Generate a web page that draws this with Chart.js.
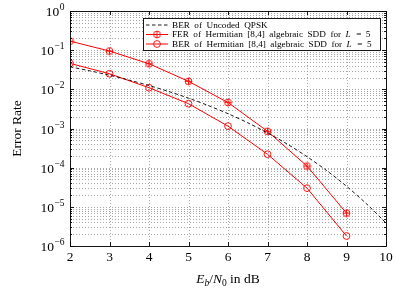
<!DOCTYPE html>
<html>
<head>
<meta charset="utf-8">
<script src="https://cdn.jsdelivr.net/npm/chart.js@4/dist/chart.umd.min.js"></script>
<style>html,body{margin:0;padding:0;background:#fff}canvas{display:block}</style>
</head>
<body>
<canvas id="c" width="398" height="292"></canvas>
<script>
// ---- data ----
const snr = [2, 3, 4, 5, 6, 7, 8, 9];
const ferSdd = [0.17, 0.095, 0.045, 0.016, 0.0046, 8.5e-4, 1.1e-4, 6.9e-6];
const berSdd = [0.046, 0.025, 0.011, 0.0043, 0.00115, 2.2e-4, 3.0e-5, 1.8e-6];
const snrQpsk = [2, 2.5, 3, 3.5, 4, 4.5, 5, 5.5, 6, 6.5, 7, 7.5, 8, 8.5, 9, 9.5, 10];
const berQpsk = [0.0375, 0.0297, 0.0229, 0.0172, 0.0125, 0.0088, 0.00595, 0.00386, 0.00239,
  0.0014, 7.7e-4, 4.0e-4, 1.91e-4, 8.4e-5, 3.36e-5, 1.21e-5, 3.87e-6];
const xTicks = [2, 3, 4, 5, 6, 7, 8, 9, 10];
const yExps = [0, -1, -2, -3, -4, -5, -6];

const SERIF = '"Liberation Serif", "DejaVu Serif", serif';
const RED = '#ff0000';

// circle-plus marker for the FER curve
function ferMark() {
  const c = document.createElement('canvas');
  c.width = 9; c.height = 9;
  const g = c.getContext('2d');
  g.strokeStyle = RED; g.lineWidth = 0.9;
  g.beginPath(); g.arc(4.5, 4.5, 3.4, 0, 2 * Math.PI); g.stroke();
  g.beginPath();
  g.moveTo(4.5, 1.1); g.lineTo(4.5, 7.9);
  g.moveTo(1.1, 4.5); g.lineTo(7.9, 4.5);
  g.stroke();
  return c;
}
const ferPt = ferMark();

const pairs = (xs, ys) => xs.map((x, i) => ({ x, y: ys[i] }));

// dotted grid under the data
const gridPlugin = {
  id: 'grid',
  beforeDatasetsDraw(chart) {
    const { ctx, chartArea: a, scales: { x, y } } = chart;
    ctx.save();
    ctx.strokeStyle = '#8f8f8f';
    ctx.lineWidth = 0.8;
    ctx.setLineDash([1, 2]);
    ctx.beginPath();
    xTicks.forEach(v => {
      const px = Math.round(x.getPixelForValue(v)) + 0.5;
      ctx.moveTo(px, a.top); ctx.lineTo(px, a.bottom);
    });
    yExps.forEach(e => {
      for (let m = 1; m < 10; m++) {
        if (e === 0 && m > 1) break;
        const py = Math.round(y.getPixelForValue(m * Math.pow(10, e))) + 0.5;
        ctx.moveTo(a.left, py); ctx.lineTo(a.right, py);
      }
    });
    ctx.stroke();
    ctx.restore();
  },
};

function drawPow(ctx, xr, yc, e) {
  // "10" with superscript exponent, right edge at xr
  const sup = e === 0 ? '0' : '\u2212' + (-e);
  ctx.font = '13.5px ' + SERIF;
  const wb = ctx.measureText('10').width;
  ctx.font = '9.5px ' + SERIF;
  const we = ctx.measureText(sup).width;
  const x0 = xr - we - wb - 0.5;
  ctx.textBaseline = 'middle';
  ctx.textAlign = 'left';
  ctx.font = '13.5px ' + SERIF;
  ctx.fillText('10', x0, yc + 1.5);
  ctx.font = '9.5px ' + SERIF;
  ctx.fillText(sup, x0 + wb + 0.5, yc - 3.5);
}

const framePlugin = {
  id: 'frame',
  afterDatasetsDraw(chart) {
    const { ctx, chartArea: a, scales: { x, y } } = chart;
    ctx.save();
    ctx.fillStyle = '#000';
    ctx.strokeStyle = '#000';
    ctx.lineWidth = 0.9;
    // ticks
    ctx.beginPath();
    xTicks.forEach(v => {
      const px = Math.round(x.getPixelForValue(v)) + 0.5;
      ctx.moveTo(px, a.bottom); ctx.lineTo(px, a.bottom - 4);
      ctx.moveTo(px, a.top); ctx.lineTo(px, a.top + 4);
    });
    yExps.forEach(e => {
      for (let m = 1; m < 10; m++) {
        if (e === 0 && m > 1) break;
        const py = Math.round(y.getPixelForValue(m * Math.pow(10, e))) + 0.5;
        const len = m === 1 ? 4 : 2;
        ctx.moveTo(a.left, py); ctx.lineTo(a.left + len, py);
        ctx.moveTo(a.right, py); ctx.lineTo(a.right - len, py);
      }
    });
    ctx.stroke();
    ctx.strokeRect(Math.round(a.left) + 0.5, Math.round(a.top) + 0.5,
      Math.round(a.right - a.left), Math.round(a.bottom - a.top));

    // tick labels
    ctx.font = '13.5px ' + SERIF;
    ctx.textAlign = 'center';
    ctx.textBaseline = 'middle';
    xTicks.forEach(v => ctx.fillText(String(v), x.getPixelForValue(v), a.bottom + 11.5));
    yExps.forEach(e => drawPow(ctx, a.left - 5.5, y.getPixelForValue(Math.pow(10, e)), e));

    // axis titles
    ctx.save();
    ctx.translate(17, (a.top + a.bottom) / 2);
    ctx.rotate(-Math.PI / 2);
    ctx.font = '13.5px ' + SERIF;
    ctx.textAlign = 'center';
    ctx.textBaseline = 'middle';
    ctx.fillText('Error Rate', 0, 0);
    ctx.restore();

    const parts = [
      ['E', 'italic 13.5px ', 0], ['b', 'italic 9.5px ', 3], ['/', '13.5px ', 0],
      ['N', 'italic 13.5px ', 0], ['0', '9.5px ', 3], [' in dB', '13.5px ', 0],
    ];
    let tw = 0;
    parts.forEach(p => { ctx.font = p[1] + SERIF; tw += ctx.measureText(p[0]).width; });
    let cx = (a.left + a.right) / 2 - tw / 2;
    ctx.textAlign = 'left';
    ctx.textBaseline = 'alphabetic';
    parts.forEach(p => {
      ctx.font = p[1] + SERIF;
      ctx.fillText(p[0], cx, 283 + p[2]);
      cx += ctx.measureText(p[0]).width;
    });

    // legend
    const lx = 143, ly = 18, lw = 237, lh = 32;
    ctx.fillStyle = '#fff';
    ctx.fillRect(lx, ly, lw, lh);
    ctx.strokeStyle = '#000';
    ctx.lineWidth = 0.9;
    ctx.strokeRect(lx + 0.5, ly + 0.5, lw, lh);
    const rows = [
      { y: 25, text: 'BER of Uncoded QPSK', L: false },
      { y: 34.5, text: 'FER of Hermitian [8,4] algebraic SDD for ', L: true },
      { y: 44, text: 'BER of Hermitian [8,4] algebraic SDD for ', L: true },
    ];
    rows.forEach((r, i) => {
      ctx.save();
      if (i === 0) { ctx.strokeStyle = '#000'; ctx.setLineDash([3.5, 2.5]); ctx.lineWidth = 0.9; }
      else { ctx.strokeStyle = RED; ctx.lineWidth = 1; }
      ctx.beginPath(); ctx.moveTo(146, r.y); ctx.lineTo(168, r.y); ctx.stroke();
      ctx.restore();
      if (i === 1) ctx.drawImage(ferPt, 157 - 4.5, r.y - 4.5);
      if (i === 2) {
        ctx.save(); ctx.strokeStyle = RED; ctx.lineWidth = 0.9;
        ctx.beginPath(); ctx.arc(157, r.y, 3.4, 0, 2 * Math.PI); ctx.stroke(); ctx.restore();
      }
      ctx.fillStyle = '#000';
      ctx.textBaseline = 'middle';
      ctx.textAlign = 'left';
      ctx.font = '9.2px ' + SERIF;
      ctx.wordSpacing = '2.2px';
      let tx = 172;
      ctx.fillText(r.text, tx, r.y + 0.5);
      if (r.L) {
        tx += ctx.measureText(r.text).width;
        ctx.font = 'italic 9.2px ' + SERIF;
        ctx.fillText('L', tx, r.y + 0.5);
        tx += ctx.measureText('L').width;
        ctx.font = '9.2px ' + SERIF;
        ctx.fillText(' = 5', tx + 1, r.y + 0.5);
      }
      ctx.wordSpacing = '0px';
    });
    ctx.restore();
  },
};

new Chart(document.getElementById('c').getContext('2d'), {
  type: 'line',
  data: {
    datasets: [
      {
        label: 'BER of Uncoded QPSK',
        data: pairs(snrQpsk, berQpsk),
        borderColor: '#000', borderWidth: 0.9, borderDash: [3.5, 2.5],
        pointRadius: 0, fill: false, tension: 0.3,
      },
      {
        label: 'FER of Hermitian [8,4] algebraic SDD for L = 5',
        data: pairs(snr, ferSdd),
        borderColor: RED, borderWidth: 1,
        pointStyle: ferPt, pointRadius: 4, fill: false, tension: 0,
      },
      {
        label: 'BER of Hermitian [8,4] algebraic SDD for L = 5',
        data: pairs(snr, berSdd),
        borderColor: RED, borderWidth: 1,
        pointStyle: 'circle', pointRadius: 3.4, pointBorderWidth: 0.9,
        pointBorderColor: RED, pointBackgroundColor: 'rgba(0,0,0,0)',
        fill: false, tension: 0,
      },
    ],
  },
  plugins: [gridPlugin, framePlugin],
  options: {
    responsive: false,
    animation: false,
    events: [],
    layout: { padding: { top: 11, right: 12, left: 0, bottom: 0 } },
    plugins: { legend: { display: false }, tooltip: { enabled: false } },
    scales: {
      x: {
        type: 'linear', min: 2, max: 10,
        grid: { display: false }, border: { display: false },
        ticks: { display: false },
        afterFit: s => { s.height = 46; },
      },
      y: {
        type: 'logarithmic', min: 1e-6, max: 1,
        grid: { display: false }, border: { display: false },
        ticks: { display: false },
        afterFit: s => { s.width = 70; },
      },
    },
  },
});
</script>
</body>
</html>
